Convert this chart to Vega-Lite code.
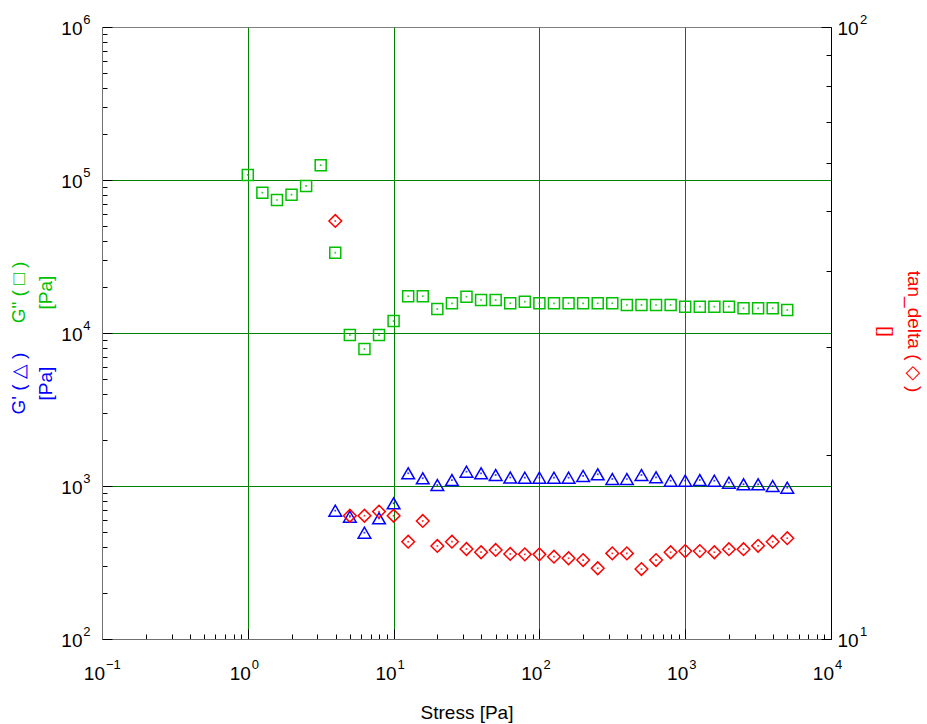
{
  "$schema": "https://vega.github.io/schema/vega-lite/v6.json",
  "width": 729,
  "height": 612,
  "autosize": "none",
  "padding": {"left": 102, "top": 27, "right": 96, "bottom": 85},
  "config": {
    "font": "Liberation Sans",
    "view": {"stroke": "#808080", "strokeWidth": 1},
    "axis": {"labelFont": "Liberation Sans", "titleFont": "Liberation Sans", "labelColor": "#000", "titleFontWeight": "normal", "labelFlush": false, "labelOverlap": false, "tickColor": "#000", "tickWidth": 1}
  },
  "data": {
    "values": [
      {"stress": 1.0, "Gpp": 108000, "Gp": null, "tan": null},
      {"stress": 1.259, "Gpp": 82600, "Gp": null, "tan": null},
      {"stress": 1.585, "Gpp": 74000, "Gp": null, "tan": null},
      {"stress": 1.995, "Gpp": 80200, "Gp": null, "tan": null},
      {"stress": 2.512, "Gpp": 91400, "Gp": null, "tan": null},
      {"stress": 3.162, "Gpp": 125000, "Gp": null, "tan": null},
      {"stress": 3.981, "Gpp": 33500, "Gp": 690, "tan": 48.2},
      {"stress": 5.012, "Gpp": 9700, "Gp": 630, "tan": 15.9},
      {"stress": 6.31, "Gpp": 7860, "Gp": 495, "tan": 15.9},
      {"stress": 7.943, "Gpp": 9700, "Gp": 615, "tan": 16.15},
      {"stress": 10.0, "Gpp": 11970, "Gp": 771, "tan": 15.9},
      {"stress": 12.59, "Gpp": 17380, "Gp": 1211, "tan": 14.42},
      {"stress": 15.85, "Gpp": 17400, "Gp": 1123, "tan": 15.59},
      {"stress": 19.95, "Gpp": 14350, "Gp": 1015, "tan": 14.19},
      {"stress": 25.12, "Gpp": 15640, "Gp": 1094, "tan": 14.42},
      {"stress": 31.62, "Gpp": 17270, "Gp": 1240, "tan": 14.03},
      {"stress": 39.81, "Gpp": 16430, "Gp": 1211, "tan": 13.86},
      {"stress": 50.12, "Gpp": 16430, "Gp": 1180, "tan": 13.98},
      {"stress": 63.1, "Gpp": 15640, "Gp": 1136, "tan": 13.77},
      {"stress": 79.43, "Gpp": 16020, "Gp": 1133, "tan": 13.75},
      {"stress": 100.0, "Gpp": 15640, "Gp": 1133, "tan": 13.75},
      {"stress": 125.9, "Gpp": 15640, "Gp": 1133, "tan": 13.63},
      {"stress": 158.5, "Gpp": 15640, "Gp": 1133, "tan": 13.55},
      {"stress": 199.5, "Gpp": 15640, "Gp": 1163, "tan": 13.46},
      {"stress": 251.2, "Gpp": 15640, "Gp": 1193, "tan": 13.05},
      {"stress": 316.2, "Gpp": 15640, "Gp": 1111, "tan": 13.8},
      {"stress": 398.1, "Gpp": 15240, "Gp": 1111, "tan": 13.8},
      {"stress": 501.2, "Gpp": 15240, "Gp": 1180, "tan": 13.01},
      {"stress": 631.0, "Gpp": 15240, "Gp": 1140, "tan": 13.46},
      {"stress": 794.3, "Gpp": 15240, "Gp": 1083, "tan": 13.86},
      {"stress": 1000, "Gpp": 14860, "Gp": 1083, "tan": 13.92},
      {"stress": 1259, "Gpp": 14860, "Gp": 1094, "tan": 13.92},
      {"stress": 1585, "Gpp": 14860, "Gp": 1083, "tan": 13.86},
      {"stress": 1995, "Gpp": 14860, "Gp": 1051, "tan": 14.02},
      {"stress": 2512, "Gpp": 14500, "Gp": 1026, "tan": 14.02},
      {"stress": 3162, "Gpp": 14500, "Gp": 1026, "tan": 14.2},
      {"stress": 3981, "Gpp": 14500, "Gp": 1000, "tan": 14.42},
      {"stress": 5012, "Gpp": 14130, "Gp": 975, "tan": 14.61}
    ]
  },
  "layer": [
    {
      "encoding": {
        "x": {
          "field": "stress",
          "type": "quantitative",
          "scale": {"type": "log", "domain": [0.1, 10000], "nice": false},
          "axis": {
            "orient": "bottom",
            "values": [0.1, 0.2, 0.3, 0.4, 0.5, 0.6, 0.7, 0.8, 0.9, 1, 2, 3, 4, 5, 6, 7, 8, 9, 10, 20, 30, 40, 50, 60, 70, 80, 90, 100, 200, 300, 400, 500, 600, 700, 800, 900, 1000, 2000, 3000, 4000, 5000, 6000, 7000, 8000, 9000, 10000],
            "labelExpr": "abs(log(datum.value)/LN10 - round(log(datum.value)/LN10)) < 0.001 ? '10' : ''",
            "labelFontSize": 19,
            "labelAlign": "right",
            "labelOffset": 2.5,
            "labelPadding": 35,
            "tickSize": {"condition": {"test": "abs(log(datum.value)/LN10 - round(log(datum.value)/LN10)) < 0.001", "value": -10}, "value": -5},
            "domainColor": "#707070",
            "grid": true,
            "gridColor": "#008000",
            "gridWidth": 1,
            "gridOpacity": {"condition": {"test": "abs(log(datum.value)/LN10 - round(log(datum.value)/LN10)) < 0.001 && datum.value > 0.5 && datum.value < 5000", "value": 1}, "value": 0},
            "title": "Stress [Pa]",
            "titleFontSize": 19,
            "titleColor": "#000",
            "titleX": 364.5,
            "titleY": 73,
            "titleAlign": "center",
            "titleBaseline": "middle"
          }
        },
        "y": {
          "field": "Gpp",
          "type": "quantitative",
          "scale": {"type": "log", "domain": [100, 1000000], "nice": false},
          "axis": {
            "orient": "left",
            "values": [100, 200, 300, 400, 500, 600, 700, 800, 900, 1000, 2000, 3000, 4000, 5000, 6000, 7000, 8000, 9000, 10000, 20000, 30000, 40000, 50000, 60000, 70000, 80000, 90000, 100000, 200000, 300000, 400000, 500000, 600000, 700000, 800000, 900000, 1000000],
            "labelExpr": "abs(log(datum.value)/LN10 - round(log(datum.value)/LN10)) < 0.001 ? '10' : ''",
            "labelFontSize": 19,
            "labelAlign": "right",
            "labelOffset": 1,
            "labelPadding": 30,
            "tickSize": {"condition": {"test": "abs(log(datum.value)/LN10 - round(log(datum.value)/LN10)) < 0.001", "value": -10}, "value": -5},
            "domainColor": "#707070",
            "grid": true,
            "gridColor": "#008000",
            "gridWidth": 1,
            "gridOpacity": {"condition": {"test": "abs(log(datum.value)/LN10 - round(log(datum.value)/LN10)) < 0.001 && datum.value > 500 && datum.value < 500000", "value": 1}, "value": 0},
            "title": ["G\" ( □ )", "[Pa]"],
            "titleColor": "#00c000",
            "titleFontSize": 19,
            "titleLineHeight": 27,
            "titleAngle": -90,
            "titleX": -84,
            "titleY": 265,
            "titleAlign": "center",
            "titleBaseline": "middle"
          }
        }
      },
      "layer": [
        {"mark": {"type": "point", "shape": "square", "filled": false, "size": 121, "strokeWidth": 1.5, "color": "#00c000", "opacity": 1}},
        {"mark": {"type": "point", "shape": "square", "filled": true, "size": 3, "color": "#00c000", "opacity": 0.8}}
      ]
    },
    {
      "encoding": {
        "x": {
          "field": "stress",
          "type": "quantitative",
          "scale": {"type": "log", "domain": [0.1, 10000], "nice": false},
          "axis": {
            "orient": "bottom",
            "values": [0.1, 1, 10, 100, 1000, 10000],
            "labelExpr": "format(round(log(datum.value)/LN10), 'd')",
            "labelFontSize": 13,
            "labelAlign": "left",
            "labelOffset": 3.5,
            "labelPadding": 19,
            "ticks": false,
            "tickSize": 0,
            "domain": false,
            "grid": false,
            "title": null
          }
        },
        "y": {
          "field": "Gp",
          "type": "quantitative",
          "scale": {"type": "log", "domain": [100, 1000000], "nice": false},
          "axis": {
            "orient": "left",
            "values": [100, 1000, 10000, 100000, 1000000],
            "labelExpr": "format(round(log(datum.value)/LN10), 'd')",
            "labelFontSize": 13,
            "labelAlign": "right",
            "labelOffset": -7.5,
            "labelPadding": 12,
            "ticks": false,
            "tickSize": 0,
            "domain": false,
            "grid": false,
            "title": ["G' ( △ )", "[Pa]"],
            "titleColor": "#0000ff",
            "titleFontSize": 19,
            "titleLineHeight": 27,
            "titleAngle": -90,
            "titleX": -84,
            "titleY": 356,
            "titleAlign": "center",
            "titleBaseline": "middle"
          }
        }
      },
      "layer": [
        {"mark": {"type": "point", "shape": "triangle-up", "filled": false, "size": 160, "strokeWidth": 1.5, "color": "#0000ff", "opacity": 1}},
        {"mark": {"type": "point", "shape": "square", "filled": true, "size": 3, "color": "#0000ff", "opacity": 0.8}}
      ]
    },
    {
      "encoding": {
        "x": {"field": "stress", "type": "quantitative", "scale": {"type": "log", "domain": [0.1, 10000], "nice": false}, "axis": null},
        "y": {
          "field": "tan",
          "type": "quantitative",
          "scale": {"type": "log", "domain": [10, 100], "nice": false},
          "axis": {
            "orient": "right",
            "values": [10, 20, 30, 40, 50, 60, 70, 80, 90, 100],
            "labelExpr": "abs(log(datum.value)/LN10 - round(log(datum.value)/LN10)) < 0.001 ? '10' : ''",
            "labelFontSize": 19,
            "labelAlign": "left",
            "labelOffset": 1,
            "labelPadding": 16,
            "tickSize": {"condition": {"test": "abs(log(datum.value)/LN10 - round(log(datum.value)/LN10)) < 0.001", "value": -10}, "value": -5},
            "domainColor": "#000",
            "grid": false,
            "title": ["tan_delta ( ◇ )", "[]"],
            "titleColor": "#ff0000",
            "titleFontSize": 19,
            "titleLineHeight": 28,
            "titleAngle": 90,
            "titleX": 82,
            "titleY": 304,
            "titleAlign": "center",
            "titleBaseline": "middle"
          }
        }
      },
      "mark": {"type": "point", "shape": "diamond", "filled": false, "size": 160, "strokeWidth": 1.5, "color": "#ff0000", "opacity": 1}
    },
    {
      "encoding": {
        "x": {"field": "stress", "type": "quantitative", "scale": {"type": "log", "domain": [0.1, 10000], "nice": false}, "axis": null},
        "y": {
          "field": "tan",
          "type": "quantitative",
          "scale": {"type": "log", "domain": [10, 100], "nice": false},
          "axis": {
            "orient": "right",
            "values": [10, 100],
            "labelExpr": "format(round(log(datum.value)/LN10), 'd')",
            "labelFontSize": 13,
            "labelAlign": "left",
            "labelOffset": -7.5,
            "labelPadding": 28.5,
            "ticks": false,
            "tickSize": 0,
            "domain": false,
            "grid": false,
            "title": null
          }
        }
      },
      "mark": {"type": "point", "shape": "square", "filled": true, "size": 3, "color": "#ff0000", "opacity": 0.8}
    }
  ],
  "resolve": {"scale": {"y": "independent"}, "axis": {"x": "independent"}}
}
